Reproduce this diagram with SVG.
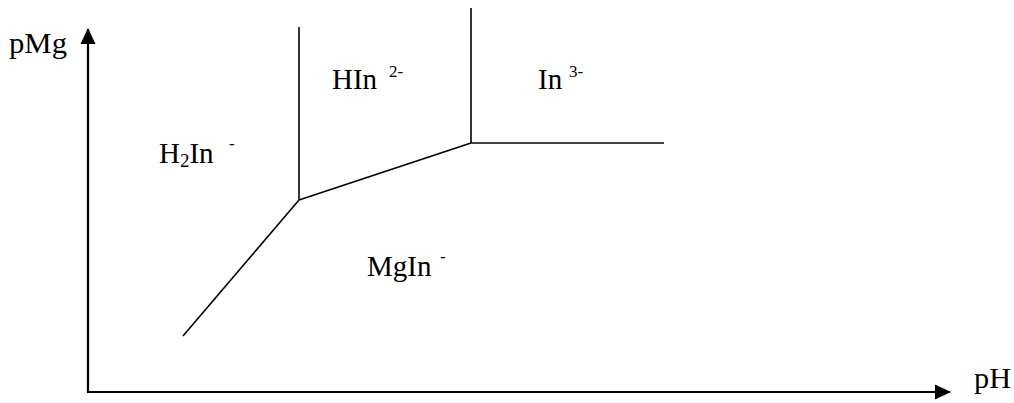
<svg xmlns="http://www.w3.org/2000/svg" width="1014" height="403" viewBox="0 0 1014 403">
<style>
.t{font-family:"Liberation Serif","Times New Roman",serif;font-size:29px;fill:#000}
.s{font-family:"Liberation Serif","Times New Roman",serif;font-size:17px;fill:#000}
.ln{stroke:#000;stroke-width:1.6;fill:none}
.ax{stroke:#000;stroke-width:2.2;fill:none}
</style>
<defs>
<marker id="ah" markerWidth="16" markerHeight="16" refX="15" refY="7.5" orient="auto" markerUnits="userSpaceOnUse" viewBox="0 0 16 15">
<path d="M0,0 L16,7.5 L0,15 Z" fill="#000"/>
</marker>
</defs>
<rect width="1014" height="403" fill="#fff"/>
<g id="connectors">
<line class="ax" x1="88" y1="393" x2="88" y2="29" marker-end="url(#ah)"/>
<line class="ax" x1="87" y1="392" x2="950" y2="392" marker-end="url(#ah)"/>
<line class="ln" x1="299" y1="27" x2="299" y2="200"/>
<line class="ln" x1="471" y1="8" x2="471" y2="143"/>
<line class="ln" x1="299" y1="200" x2="471" y2="143"/>
<line class="ln" x1="471" y1="143" x2="664" y2="143"/>
<line class="ln" x1="183" y1="336" x2="299" y2="200"/>
</g>
<g id="axis-pMg"><text class="t" x="9" y="53" textLength="58" lengthAdjust="spacingAndGlyphs">pMg</text></g>
<g id="axis-pH"><text class="t" x="974" y="388" textLength="37" lengthAdjust="spacingAndGlyphs">pH</text></g>
<g id="H2In"><text class="t" x="159" y="163">H<tspan font-size="19" dy="4">2</tspan><tspan dy="-4">In</tspan></text><text class="s" x="229" y="149">-</text></g>
<g id="HIn"><text class="t" x="332" y="89">HIn</text><text class="s" x="389" y="77">2-</text></g>
<g id="In"><text class="t" x="538" y="89">In</text><text class="s" x="569" y="77">3-</text></g>
<g id="MgIn"><text class="t" x="367" y="276">MgIn</text><text class="s" x="440" y="262">-</text></g>
</svg>
